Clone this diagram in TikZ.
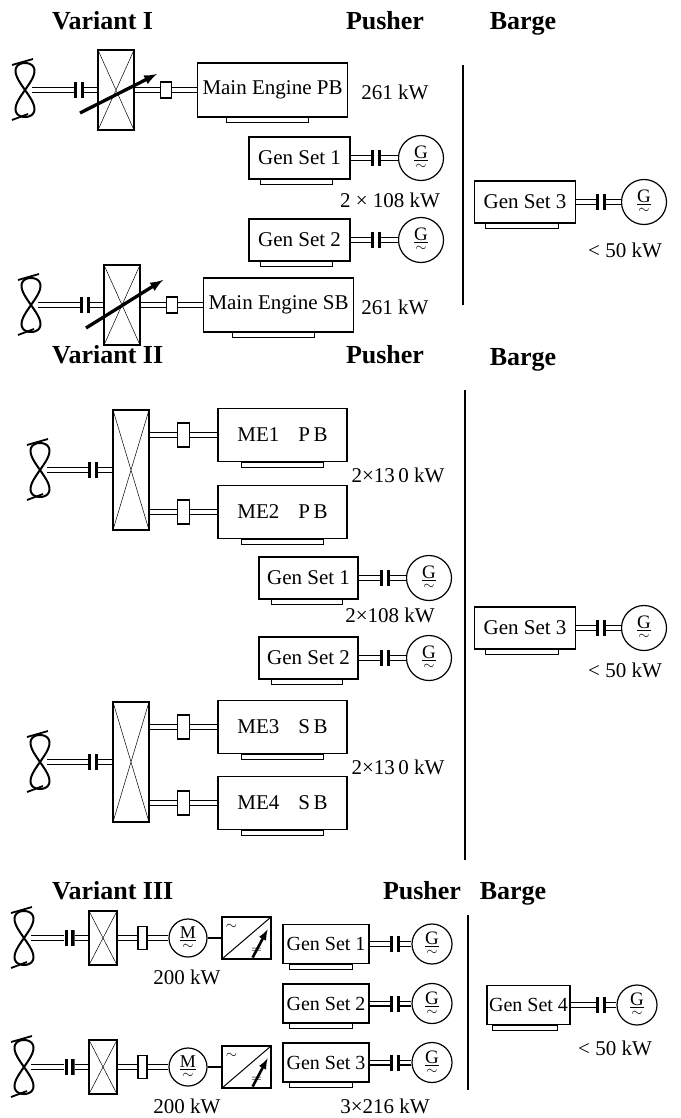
\documentclass[tikz,border=0pt]{standalone}
\usepackage{fontspec}
\setmainfont{Liberation Serif}
\usetikzlibrary{calc}

\newcommand{\gensym}[1]{\underline{#1}\\[-13pt]{\fontsize{14}{14}\selectfont$\sim$}}

\begin{document}
\begin{tikzpicture}[x=1pt,y=-1pt,font=\fontsize{21}{24}\selectfont,
    head/.style={font=\fontsize{26}{30}\selectfont\bfseries,inner sep=0pt,anchor=base},
    engine/.style={draw,line width=1.3pt,inner sep=0pt},
    genset/.style={engine,minimum width=101pt,minimum height=42pt},
    plate/.style={line width=1.1pt},
    gen/.style={draw,circle,line width=1.2pt,minimum size=45pt,inner sep=0pt,align=center,font=\fontsize{19}{24}\selectfont},
    gearbox/.style={draw,line width=1.2pt,inner sep=0pt,
        path picture={\draw[line width=.5pt] (path picture bounding box.north west) -- (path picture bounding box.south east)
            (path picture bounding box.north east) -- (path picture bounding box.south west);}},
    coupling/.style={draw,line width=1.3pt,fill=white,inner sep=0pt,minimum width=11pt,minimum height=20pt},
    clutch/.style={fill=white,inner sep=0pt,minimum width=10pt,minimum height=16pt,
        path picture={\draw[line width=3.4pt] ([xshift=-3.3pt]path picture bounding box.north) -- ([xshift=-3.3pt]path picture bounding box.south)
            ([xshift=3.3pt]path picture bounding box.north) -- ([xshift=3.3pt]path picture bounding box.south);}},
    converter/.style={draw,line width=1.2pt,inner sep=0pt,minimum width=49pt,minimum height=42pt,
        path picture={\draw[line width=1pt] (path picture bounding box.south west) -- (path picture bounding box.north east);}},
    shaft/.style={double,double distance=3.4pt,line width=1.3pt},
    adjust/.style={line width=3.3pt,-latex},
    pics/propeller/.style={code={
        \draw[line width=2pt] plot[domain=0:360,samples=73,smooth] ({9.5*sin(2*\x)},{27*cos(\x)});
        \draw[line width=1.8pt] (-13,-25) -- (8,-31) (-13,30) -- (3,24);
        \coordinate (-hub) at (7,0);}}]

    \useasboundingbox (0,0) rectangle (680,1118);

    % Variant I
    \node[head,anchor=base west] (t1) at (52,30) {Variant I};
    \node[head] (p1) at (385,30) {Pusher};
    \node[head] (b1) at (523,30) {Barge};
    \draw[line width=1.2pt] (463,65) -- (463,305); % pusher | barge

    \foreach \i/\y/\dx/\ty/\sd in {1/90/0/-16/PB,2/305/6/-25/SB}{
        \pic (prI\i) at (25+\dx,\y) {propeller};
        \node[clutch] (clI\i) at (79+\dx,\y) {};
        \node[gearbox,minimum width=36pt,minimum height=80pt] (gbI\i) at (116+\dx,\y) {};
        \node[coupling,minimum height=16pt] (cpI\i) at (166+\dx,\y) {};
        \node[engine,minimum width=150pt,minimum height=54pt] (me\sd) at (272.5+\dx,\y) {Main Engine \sd};
        \node (kw\sd) at (395,\y+2) {261 kW};
        \draw[shaft] (prI\i-hub) -- (clI\i) (clI\i) -- (gbI\i) (gbI\i) -- (cpI\i) (cpI\i) -- (me\sd);
        \draw[adjust] ([shift={(-36,23)}]gbI\i.center) -- ([shift={(41,\ty)}]gbI\i.center); % pitch
        \draw[plate] ([xshift=30pt]me\sd.south west) rectangle ([xshift=-40pt,yshift=-5pt]me\sd.south east);
    }

    \foreach \i/\y in {1/158,2/240}{
        \node[genset] (gsI\i) at (299.5,\y) {Gen Set \i};
        \node[clutch] (gcI\i) at (376,\y) {};
        \node[gen] (gI\i) at (421,\y) {\gensym{G}};
        \draw[shaft] (gsI\i) -- (gcI\i) (gcI\i) -- (gI\i);
        \draw[plate] ([xshift=12pt]gsI\i.south west) rectangle ([xshift=-18pt,yshift=-5pt]gsI\i.south east);
    }
    \node (kwGI) at (390,200) {2 × 108 kW};

    \node[genset] (gsI3) at (525,202) {Gen Set 3};
    \node[clutch] (gcI3) at (601,202) {};
    \node[gen] (gI3) at (644,202) {\gensym{G}};
    \draw[shaft] (gsI3) -- (gcI3) (gcI3) -- (gI3);
    \draw[plate] ([xshift=12pt]gsI3.south west) rectangle ([xshift=-18pt,yshift=-5pt]gsI3.south east);
    \node (kwBI) at (625,250) {< 50 kW};

    % Variant II
    \node[head,anchor=base west] (t2) at (52,363) {Variant II};
    \node[head] (p2) at (385,363) {Pusher};
    \node[head] (b2) at (523,365) {Barge};
    \draw[line width=1.2pt] (465,390) -- (465,860); % pusher | barge

    \foreach \i/\y in {1/470,2/762}{
        \pic (prII\i) at (40,\y) {propeller};
        \node[clutch] (clII\i) at (93,\y) {};
        \node[gearbox,minimum width=36pt,minimum height=120pt] (gbII\i) at (131,\y) {};
        \draw[shaft] (prII\i-hub) -- (clII\i) (clII\i) -- (gbII\i);
        \node (kwII\i) at (398,\y+5) {2×13\,0 kW};
    }
    \foreach \m/\g/\y/\sa/\sb in {1/1/435/P/B,2/1/512/P/B,3/2/727/S/B,4/2/803/S/B}{
        \node[engine,minimum width=129pt,minimum height=53pt] (me\m) at (282.5,\y) {ME\m\hspace{0.9em}\sa\,\sb};
        \node[coupling,minimum width=12pt,minimum height=24pt] (cpII\m) at (183.5,\y) {};
        \draw[shaft] (gbII\g.east |- me\m) -- (cpII\m) (cpII\m) -- (me\m);
        \draw[plate] ([xshift=24pt]me\m.south west) rectangle ([xshift=-24pt,yshift=-5pt]me\m.south east);
    }

    \foreach \i/\y in {1/578,2/658}{
        \node[genset,minimum width=99pt] (gsII\i) at (308.5,\y) {Gen Set \i};
        \node[clutch] (gcII\i) at (385,\y) {};
        \node[gen] (gII\i) at (429,\y) {\gensym{G}};
        \draw[shaft] (gsII\i) -- (gcII\i) (gcII\i) -- (gII\i);
        \draw[plate] ([xshift=13pt]gsII\i.south west) rectangle ([xshift=-16pt,yshift=-5pt]gsII\i.south east);
    }
    \node (kwGII) at (390,615) {2×108 kW};

    \node[genset] (gsII3) at (525,628) {Gen Set 3};
    \node[clutch] (gcII3) at (601,628) {};
    \node[gen] (gII3) at (644,628) {\gensym{G}};
    \draw[shaft] (gsII3) -- (gcII3) (gcII3) -- (gII3);
    \draw[plate] ([xshift=12pt]gsII3.south west) rectangle ([xshift=-18pt,yshift=-5pt]gsII3.south east);
    \node (kwBII) at (625,670) {< 50 kW};

    % Variant III
    \node[head,anchor=base west] (t3) at (52,899) {Variant III};
    \node[head] (p3) at (422,899) {Pusher};
    \node[head] (b3) at (513,899) {Barge};
    \draw[line width=1.2pt] (468,915) -- (468,1090); % pusher | barge

    \foreach \i/\y/\ky in {1/938/977,2/1067/1106}{
        \pic (prIII\i) at (24,\y) {propeller};
        \node[clutch] (clIII\i) at (69.5,\y) {};
        \node[gearbox,minimum width=28pt,minimum height=54pt] (gbIII\i) at (103,\y) {};
        \node[coupling,minimum width=9pt,minimum height=23pt] (cpIII\i) at (142.5,\y) {};
        \node[gen,minimum size=38pt,font=\fontsize{18}{24}\selectfont] (mot\i) at (188,\y) {\gensym{M}};
        \node[converter] (cv\i) at (246.5,\y) {};
        \node (kwM\i) at (187,\ky) {200 kW};
        \draw[shaft] (prIII\i-hub) -- (clIII\i) (clIII\i) -- (gbIII\i) (gbIII\i) -- (cpIII\i) (cpIII\i) -- (mot\i);
        \draw[line width=1.2pt] (mot\i) -- (cv\i);
        \node[font=\fontsize{14}{14}\selectfont] (ac\i) at ([shift={(10,10)}]cv\i.north west) {$\sim$};
        \node[font=\fontsize{14}{14}\selectfont] (dc\i) at ([shift={(-15,-9)}]cv\i.south east) {$=$};
        \draw[adjust,line width=2.6pt] ([shift={(-19,-2)}]cv\i.south east) -- ([shift={(-4,13)}]cv\i.north east);
    }

    \foreach \i/\y in {1/944,2/1003.5,3/1062.5}{
        \node[genset,minimum width=86pt,minimum height=39pt,font=\fontsize{20}{24}\selectfont] (gsIII\i) at (326,\y) {Gen Set \i};
        \node[clutch] (gcIII\i) at (395,\y) {};
        \node[gen,minimum size=40pt] (gIII\i) at (432,\y) {\gensym{G}};
        \draw[shaft] (gsIII\i) -- (gcIII\i) (gcIII\i) -- (gIII\i);
        \draw[plate] ([xshift=7pt]gsIII\i.south west) rectangle ([xshift=-17pt,yshift=-5pt]gsIII\i.south east);
    }
    \node (kwGIII) at (385,1106) {3×216 kW};

    \node[genset,minimum width=83pt,minimum height=39pt,font=\fontsize{20}{24}\selectfont] (gsIII4) at (528.5,1005) {Gen Set 4};
    \node[clutch] (gcIII4) at (601,1005) {};
    \node[gen,minimum size=40pt] (gIII4) at (637,1005) {\gensym{G}};
    \draw[shaft] (gsIII4) -- (gcIII4) (gcIII4) -- (gIII4);
    \draw[plate] ([xshift=6pt]gsIII4.south west) rectangle ([xshift=-13pt,yshift=-5pt]gsIII4.south east);
    \node (kwBIII) at (615,1048) {< 50 kW};
\end{tikzpicture}
\end{document}
